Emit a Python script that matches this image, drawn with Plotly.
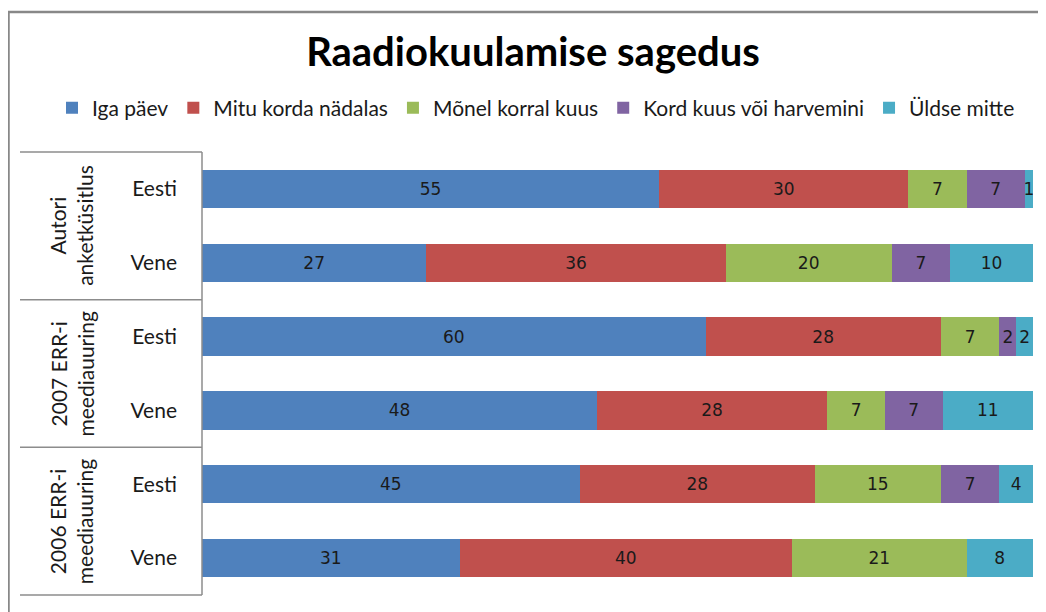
import plotly.graph_objects as go

groups = ["Autori<br>anketküsitlus", "2007 ERR-i<br>meediauuring", "2006 ERR-i<br>meediauuring"]
subgroups = ["Eesti", "Vene"]
series_names = ["Iga päev", "Mitu korda nädalas", "Mõnel korral kuus",
                "Kord kuus või harvemini", "Üldse mitte"]
colors = ["#4F81BD", "#C0504D", "#9BBB59", "#8064A2", "#4BACC6"]

# rows: Autori Eesti, Autori Vene, 2007 Eesti, 2007 Vene, 2006 Eesti, 2006 Vene
iga_paev = [55, 27, 60, 48, 45, 31]
mitu_korda = [30, 36, 28, 28, 28, 40]
monel_korral = [7, 20, 7, 7, 15, 21]
kord_kuus = [7, 7, 2, 7, 7, 0]
uldse_mitte = [1, 10, 2, 11, 4, 8]
series = [iga_paev, mitu_korda, monel_korral, kord_kuus, uldse_mitte]

row_ids = list(range(len(groups) * len(subgroups)))
row_labels = [s for g in groups for s in subgroups]

# page body has an 8px margin; work in reference-image pixels and shift
OFF = 8
W, H = 1046 - OFF, 612 - OFF
X0, X1, Y0, Y1 = 202, 1033, 152, 595          # plot area in reference pixels
L, R, T, B = X0 - OFF, W - (X1 - OFF), Y0 - OFF, H - (Y1 - OFF)
pw, ph = X1 - X0, Y1 - Y0

def px_x(px):
    return (px - X0) / pw

def px_y(py):
    return (Y1 - py) / ph

fig = go.Figure()
for name, vals, col in zip(series_names, series, colors):
    fig.add_trace(go.Bar(
        y=row_ids, x=vals, name=name, orientation="h",
        marker=dict(color=col, line=dict(width=0)),
        width=0.52,
        text=[str(v) if v else "" for v in vals],
        textposition="inside", insidetextanchor="middle", textangle=0,
        constraintext="none",
        textfont=dict(family="DejaVu Sans", size=17, color="#1a1a1a"),
    ))

shapes = []
line_col = "#8c8c8c"
# outer frame
shapes.append(dict(type="rect", xref="paper", yref="paper",
                   x0=px_x(8.5), x1=px_x(1070), y0=px_y(12), y1=px_y(640),
                   line=dict(color="#888888", width=2.5), layer="below"))
# table lines
n_rows = len(row_ids)
for k in range(len(groups) + 1):
    py = Y0 + k * ph * len(subgroups) / n_rows
    shapes.append(dict(type="line", xref="paper", yref="paper",
                       x0=px_x(20), x1=0, y0=px_y(py), y1=px_y(py),
                       line=dict(color=line_col, width=1.5)))
shapes.append(dict(type="line", xref="paper", yref="paper",
                   x0=0, x1=0, y0=0, y1=1, line=dict(color=line_col, width=1.5)))

annotations = []
for k, g in enumerate(groups):
    yc = 1 - (k + 0.5) / len(groups)
    annotations.append(dict(text=g, xref="paper", yref="paper",
                            x=px_x(71), y=yc, xanchor="center", yanchor="middle",
                            textangle=-90, showarrow=False,
                            font=dict(family="Lato", size=21, color="#1a1a1a")))

fig.update_layout(
    width=W, height=H,
    margin=dict(l=L, r=R, t=T, b=B, autoexpand=False),
    barmode="stack", barnorm="percent",
    paper_bgcolor="white", plot_bgcolor="white",
    title=dict(text="<b>Raadiokuulamise sagedus</b>", x=(533 - OFF) / W, xanchor="center",
               y=1 - (52 - OFF) / H, yanchor="middle",
               font=dict(family="Lato", size=40, color="#000000")),
    legend=dict(orientation="h", x=px_x(52), xanchor="left",
                y=px_y(108), yanchor="middle", traceorder="normal",
                font=dict(family="Lato", size=21, color="#1a1a1a"),
                itemwidth=30, tracegroupgap=0),
    xaxis=dict(range=[0, 100], visible=False, fixedrange=True),
    yaxis=dict(tickmode="array", tickvals=row_ids, ticktext=row_labels,
               range=[n_rows - 0.5, -0.5], showgrid=False, zeroline=False,
               showline=False, ticks="", ticklabelstandoff=24,
               tickfont=dict(family="Lato", size=21, color="#1a1a1a")),
    shapes=shapes, annotations=annotations,
    showlegend=True, bargap=0.48,
)

fig.write_html("out.html")
